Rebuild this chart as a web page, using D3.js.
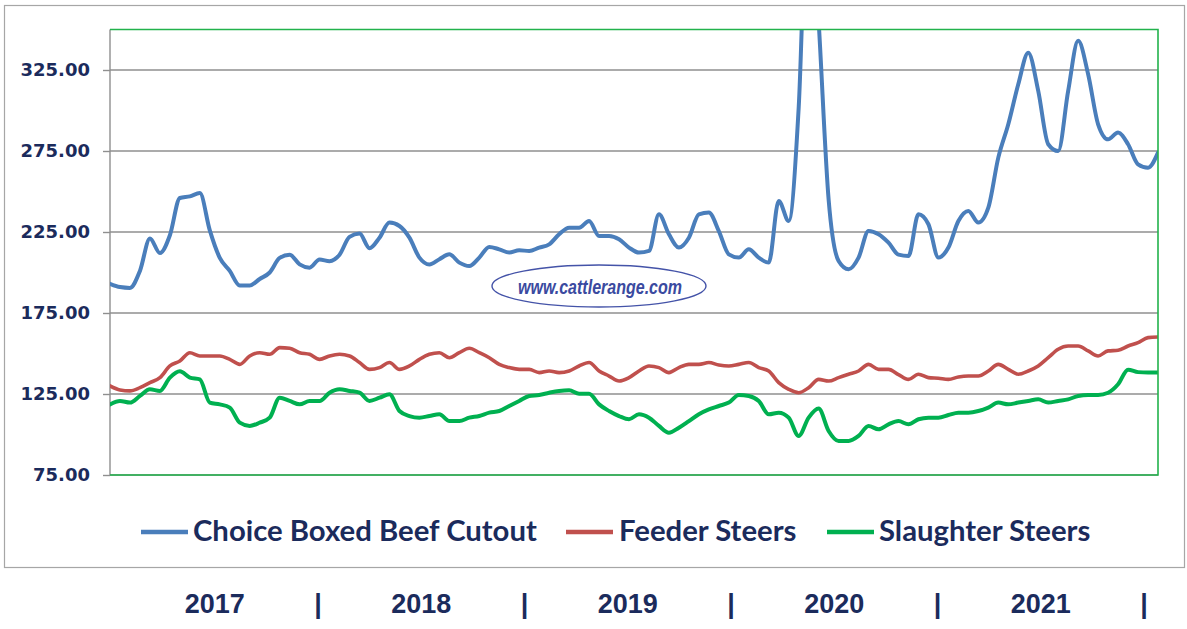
<!DOCTYPE html>
<html>
<head>
<meta charset="UTF-8">
<title>Cattle prices</title>
<script src="https://d3js.org/d3.v7.min.js"></script>
<style>
  body { margin: 0; background: #fff; }
  .grid line { stroke: #8f8f8f; stroke-width: 1.6px; }
  .yaxis text { font-family: "DejaVu Sans", Verdana, sans-serif; font-weight: bold; font-size: 18px; fill: #1b2b5c; }
  .yaxis line, .yaxis path { stroke: #8f8f8f; stroke-width: 1.4px; }
  .line { fill: none; stroke-linejoin: round; stroke-linecap: round; }
</style>
</head>
<body>
<script>
// values, one point roughly every 10px across the plot (2017 .. end 2021)
var boxedBeef = [193, 191, 190.5, 201, 221, 212, 223, 246, 247, 249,
  226, 209, 201, 192, 192, 196, 200, 209, 211, 205,
  203, 208, 207, 211, 222, 224, 215, 221.5, 230.8, 228.7,
  221.5, 209.2, 205, 208.2, 211.2, 206.1, 204, 209.2, 215.8, 214.3,
  212.3, 213.7, 213.3, 215.4, 217.4, 223.6, 227.7, 227.7, 231.8, 222.5,
  222.5, 220.5, 215.4, 212.3, 213.3, 235.9, 223.6, 215.4, 221.5, 235.9,
  237, 225.6, 211.2, 209.2, 214.3, 209.2, 206.1, 244.2, 231.8, 301.8,
  450, 355, 245, 207.1, 202, 209.2, 225.6, 223.6, 218.4, 211,
  210.2, 235.9, 229.8, 209.2, 215.4, 231.8, 238, 230.8, 240, 270.9,
  291.5, 316.2, 335.7, 312.1, 279.2, 275, 312.1, 343, 322.4, 291.5,
  282.2, 286.4, 279.2, 266.8, 264.7, 274];

var feederSteers = [130, 127.5, 126.9, 128.9, 132, 135.1, 142.3, 145.4, 150.5, 148.5,
  148.5, 148.5, 146.4, 143.3, 148.5, 150.5, 149.5, 153.6, 153.2, 150.5,
  149.5, 146.4, 148.5, 149.5, 148.5, 144.4, 140.2, 141.3, 144.4, 140.2,
  142.3, 146.4, 149.5, 150.5, 147.4, 150.5, 153.2, 150.5, 147.4, 143.3,
  141.3, 140.2, 140.2, 138.2, 139.2, 138.2, 139.2, 142.3, 144.4, 139.2,
  136.1, 133, 135.1, 139.2, 142.3, 141.3, 138.2, 141.3, 143.3, 143.3,
  144.4, 142.9, 142.3, 143.3, 144.4, 141.3, 139.2, 132, 127.9, 125.8,
  128.9, 134, 133, 135.1, 137.2, 139.2, 143.3, 140.2, 140.2, 137,
  134, 137.2, 135.1, 134.7, 134, 135.5, 136.1, 136.1, 139.2, 143.3,
  140.2, 137.2, 139.2, 142.3, 147.4, 152.6, 154.6, 154.6, 151.6, 148.5,
  151.6, 152, 154.6, 156.7, 159.8, 160.2];

var slaughterSteers = [118.6, 120.7, 119.7, 123.8, 127.9, 126.9, 135.1, 139, 135.1, 134,
  119.7, 118.6, 116.6, 107.3, 105.3, 107.3, 110.4, 122.7, 120.7, 118.6,
  120.7, 120.7, 125.8, 127.9, 126.9, 125.8, 120.7, 122.7, 124.8, 114.5,
  111.4, 110.4, 111.4, 112.5, 108.3, 108.3, 110.4, 111.4, 113.5, 114.5,
  117.6, 120.7, 123.8, 124.4, 125.8, 126.9, 127.3, 125.2, 125.2, 118.6,
  114.5, 111.4, 109.4, 112.5, 110.4, 105.3, 101.1, 104.2, 108.3, 112.5,
  115.5, 117.6, 119.7, 124.4, 123.8, 120.7, 112.5, 113.5, 110.4, 99.1,
  110.4, 116, 102.2, 96, 96, 99.1, 105.3, 103.2, 106.3, 108.3,
  106.3, 109.4, 110.4, 110.4, 112, 113.5, 113.5, 114.5, 116.6, 119.7,
  118.6, 119.7, 120.7, 121.7, 119.7, 120.7, 121.7, 123.8, 124.4, 124.4,
  125.8, 131, 140, 138.5, 138.2, 138.2];

var seriesNames = ["Choice Boxed Beef Cutout", "Feeder Steers", "Slaughter Steers"];
var seriesColors = ["#4a7ebb", "#c0504d", "#00b050"];
var yTicks = [75, 125, 175, 225, 275, 325];
var years = [2017, 2018, 2019, 2020, 2021];

var W = 1187, H = 629;
var plot = {left: 110, top: 29.5, right: 1158, bottom: 475};

var svg = d3.select("body").append("svg")
    .attr("width", W)
    .attr("height", H);

// outer frame
svg.append("rect")
    .attr("x", 4.5).attr("y", 5.5)
    .attr("width", 1180).attr("height", 562)
    .attr("fill", "#fff")
    .attr("stroke", "#a6a6a6")
    .attr("stroke-width", 1.2);

// scales
var x = d3.scaleLinear()
    .domain([0, boxedBeef.length - 1])
    .range([plot.left, plot.right]);
var y = d3.scaleLinear()
    .domain([75, 350])
    .range([plot.bottom, plot.top]);

// gridlines
svg.append("g")
    .attr("class", "grid")
    .selectAll("line")
    .data(yTicks)
    .join("line")
        .attr("x1", plot.left).attr("x2", plot.right)
        .attr("y1", function (d) { return y(d); })
        .attr("y2", function (d) { return y(d); });

// y axis
var yAxis = d3.axisLeft(y)
    .tickValues(yTicks)
    .tickSize(7)
    .tickPadding(13)
    .tickFormat(d3.format(".2f"));
svg.append("g")
    .attr("class", "yaxis")
    .attr("transform", "translate(" + plot.left + ",0)")
    .call(yAxis)
    .call(function (g) { g.select(".domain").attr("d", "M0," + plot.top + "V" + plot.bottom); });

// watermark
var wm = svg.append("g");
wm.append("ellipse")
    .attr("cx", 599).attr("cy", 286)
    .attr("rx", 107).attr("ry", 21)
    .attr("fill", "none")
    .attr("stroke", "#4453a8")
    .attr("stroke-width", 1.4);
wm.append("text")
    .attr("x", 600).attr("y", 294)
    .attr("text-anchor", "middle")
    .attr("textLength", 164)
    .attr("lengthAdjust", "spacingAndGlyphs")
    .style("font-family", "'Liberation Sans', Arial, sans-serif")
    .style("font-weight", "bold")
    .style("font-style", "italic")
    .style("font-size", "20px")
    .style("fill", "#3a4aa0")
    .text("www.cattlerange.com");

// lines
svg.append("defs").append("clipPath")
    .attr("id", "clip")
    .append("rect")
    .attr("x", plot.left).attr("y", plot.top)
    .attr("width", plot.right - plot.left)
    .attr("height", plot.bottom - plot.top);

var line = d3.line()
    .x(function (d, i) { return x(i); })
    .y(function (d) { return y(d); })
    .curve(d3.curveMonotoneX);

var lines = svg.append("g").attr("clip-path", "url(#clip)");
[boxedBeef, feederSteers, slaughterSteers].forEach(function (s, i) {
    lines.append("path")
        .datum(s)
        .attr("class", "line")
        .attr("d", line)
        .attr("stroke", seriesColors[i])
        .attr("stroke-width", i == 1 ? 3.6 : 4);
});

// plot border: green top/right/bottom
svg.append("path")
    .attr("d", "M" + plot.left + "," + plot.top + "H" + plot.right + "V" + plot.bottom + "H" + plot.left)
    .attr("fill", "none")
    .attr("stroke", "#22b24c")
    .attr("stroke-width", 1.6);

// legend
var legend = [
    {lx: 141, tx: 193},
    {lx: 566, tx: 619},
    {lx: 827, tx: 879}
];
var lg = svg.append("g");
seriesNames.forEach(function (name, i) {
    lg.append("line")
        .attr("x1", legend[i].lx).attr("x2", legend[i].lx + 47)
        .attr("y1", 532).attr("y2", 532)
        .attr("stroke", seriesColors[i])
        .attr("stroke-width", 4.5);
    lg.append("text")
        .attr("class", "legtext")
        .attr("x", legend[i].tx).attr("y", 541)
        .style("font-family", "Lato, 'Open Sans', sans-serif")
        .style("font-weight", "bold")
        .style("font-size", "28px")
        .style("fill", "#1b2b5c")
        .text(name);
});
// fit legend font so the first label spans as in the picture
var first = lg.select(".legtext").node();
var fs = 28 * 344 / first.getComputedTextLength();
lg.selectAll(".legtext").style("font-size", fs + "px");

// year labels under the frame
var yr = d3.scaleLinear().domain([2017, 2022]).range([111.5, 1144]);
var yl = svg.append("g")
    .style("font-family", "'Liberation Sans', Arial, sans-serif")
    .style("font-weight", "bold")
    .style("font-size", "27px")
    .style("fill", "#1b2b5c")
    .attr("text-anchor", "middle");
yl.selectAll(".yr")
    .data(years)
    .join("text")
        .attr("class", "yr")
        .attr("x", function (d) { return yr(d + 0.5); })
        .attr("y", 613)
        .text(function (d) { return d; });
yl.selectAll(".sep")
    .data(years)
    .join("text")
        .attr("class", "sep")
        .attr("x", function (d) { return yr(d + 1); })
        .attr("y", 613)
        .text("|");
</script>
</body>
</html>
